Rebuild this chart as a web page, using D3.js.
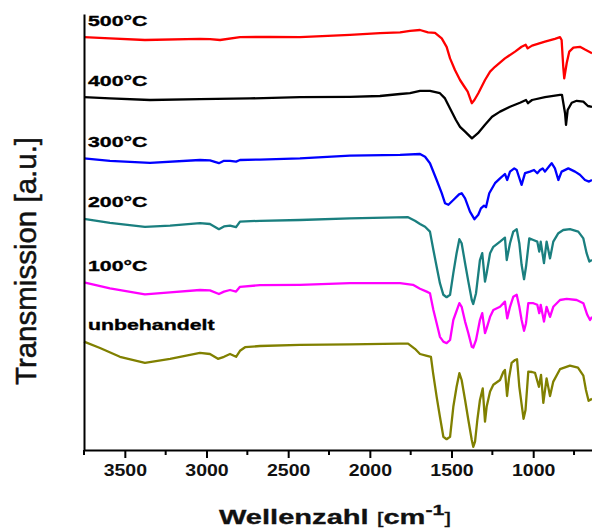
<!DOCTYPE html>
<html>
<head>
<meta charset="utf-8">
<script src="https://cdn.jsdelivr.net/npm/d3@7"></script>
<style>
  html, body { margin: 0; padding: 0; background: #fff; }
  svg { display: block; font-family: "Liberation Sans", Arial, sans-serif; }
</style>
</head>
<body>
<svg id="chart" width="592" height="529"></svg>
<script>
// FTIR spectra, stacked in arbitrary transmission units: [wavenumber cm^-1, transmission]
const t500 = [[3750,103.2],[3591,102.9],[3377,102.5],[3040,102.8],[2979,102.7],[2917,102.5],[2795,103.2],[2611,103.3],[2428,103.2],[2122,103.8],[1938,104.2],[1815,104.4],[1754,104.8],[1693,105.0],[1644,104.4],[1601,104.3],[1560,102.9],[1530,100.8],[1509,97.9],[1479,95.0],[1448,92.5],[1424,91.0],[1401,89.6],[1376,86.7],[1360,87.5],[1336,89.2],[1295,92.5],[1264,94.6],[1234,95.8],[1173,97.9],[1111,99.6],[1071,100.8],[1046,101.3],[1034,100.4],[1007,101.1],[928,102.1],[867,102.8],[836,103.2],[826,102.5],[816,95.8],[810,92.9],[795,96.7],[779,99.6],[754,100.6],[714,100.8],[683,100.1],[640,99.2]];

const t400 = [[3750,88.2],[3591,87.9],[3346,87.5],[3040,87.7],[2734,87.9],[2428,88.2],[2122,88.3],[1938,88.5],[1815,89.0],[1754,89.2],[1693,89.8],[1632,89.8],[1571,89.2],[1540,87.9],[1509,85.4],[1473,82.5],[1448,80.8],[1417,79.6],[1375,77.9],[1338,79.2],[1295,81.3],[1252,83.3],[1203,84.6],[1142,85.8],[1081,86.8],[1044,87.5],[1032,86.7],[1007,87.5],[928,88.2],[836,88.8],[824,88.8],[805,84.2],[799,81.3],[789,85.0],[764,86.8],[734,87.3],[693,87.1],[665,86.0],[640,85.8]];

const t300 = [[3750,72.9],[3591,72.3],[3346,71.8],[3040,72.5],[2979,72.4],[2924,71.7],[2893,72.3],[2856,72.3],[2819,72.1],[2795,72.5],[2673,72.6],[2428,72.9],[2122,73.6],[1815,73.8],[1693,74.0],[1662,73.3],[1632,71.7],[1591,67.5],[1560,64.2],[1540,61.7],[1519,61.3],[1489,62.5],[1454,63.9],[1438,64.2],[1417,62.9],[1387,59.6],[1360,57.7],[1336,58.8],[1320,60.4],[1301,61.1],[1289,60.7],[1269,64.2],[1234,66.7],[1203,67.9],[1173,69.0],[1159,67.5],[1142,69.6],[1116,70.4],[1101,70.0],[1071,66.3],[1050,69.2],[1020,69.6],[995,70.0],[975,69.2],[958,70.0],[942,70.4],[928,69.6],[901,71.0],[887,71.7],[867,70.4],[846,67.5],[826,69.6],[785,70.4],[744,69.6],[714,68.8],[683,67.5],[658,67.1],[640,67.5]];

const t200 = [[3750,57.8],[3591,56.8],[3377,55.8],[3223,56.1],[3040,56.7],[2979,56.5],[2924,55.2],[2893,55.9],[2856,56.1],[2819,55.7],[2795,57.1],[2673,57.3],[2428,57.5],[2122,57.9],[1766,58.2],[1724,57.3],[1693,56.5],[1662,55.8],[1632,54.6],[1611,50.0],[1591,45.8],[1571,41.7],[1550,38.8],[1530,38.2],[1509,38.8],[1489,44.2],[1469,49.2],[1452,52.7],[1438,51.7],[1417,46.7],[1397,42.1],[1376,37.5],[1367,36.5],[1350,39.2],[1326,47.5],[1312,49.2],[1295,42.1],[1285,44.2],[1264,49.2],[1244,50.8],[1203,52.1],[1173,53.1],[1162,47.5],[1142,51.7],[1122,54.6],[1101,55.2],[1085,51.7],[1071,46.3],[1056,42.7],[1044,45.8],[1024,52.9],[999,52.5],[975,52.1],[963,49.6],[954,52.1],[934,46.7],[918,52.1],[897,47.9],[877,52.1],[846,54.2],[816,55.0],[775,55.2],[724,54.6],[693,52.9],[673,49.2],[656,47.1],[640,47.5]];

const t100 = [[3750,41.9],[3591,40.4],[3377,38.9],[3223,39.4],[3040,40.0],[2979,39.9],[2924,39.0],[2893,39.6],[2856,40.0],[2819,39.6],[2795,40.8],[2673,41.2],[2428,41.3],[2122,41.7],[1815,41.7],[1736,41.3],[1693,40.3],[1652,39.6],[1632,39.2],[1611,35.0],[1591,31.7],[1571,28.3],[1550,27.1],[1530,26.7],[1509,27.5],[1489,32.5],[1452,36.7],[1438,35.8],[1417,32.1],[1397,29.2],[1376,25.8],[1367,25.6],[1350,27.5],[1326,32.5],[1312,34.2],[1295,29.2],[1285,30.4],[1264,33.3],[1244,35.0],[1203,35.8],[1173,37.1],[1159,32.9],[1142,35.8],[1122,38.3],[1101,38.8],[1085,35.8],[1071,32.5],[1056,29.8],[1044,31.7],[1030,36.7],[999,36.7],[975,36.3],[963,34.2],[954,36.3],[934,32.1],[918,35.8],[897,33.3],[877,35.8],[836,37.5],[795,37.8],[734,37.5],[693,36.7],[669,33.8],[652,32.5],[640,33.3]];

const tRaw = [[3750,27.1],[3652,25.5],[3530,23.3],[3377,21.8],[3223,22.8],[3040,24.3],[2979,24.0],[2930,22.8],[2893,23.3],[2856,24.0],[2819,23.3],[2795,24.8],[2764,25.7],[2673,26.0],[2428,26.3],[2122,26.4],[1815,26.6],[1766,26.6],[1724,25.3],[1693,24.0],[1656,23.6],[1626,23.3],[1613,19.3],[1591,13.3],[1571,8.3],[1550,3.3],[1530,2.7],[1509,3.3],[1489,10.8],[1469,15.8],[1452,19.2],[1438,17.5],[1417,12.5],[1397,7.5],[1376,2.5],[1367,0.8],[1356,2.1],[1342,7.5],[1326,12.5],[1309,15.4],[1295,7.1],[1285,10.8],[1264,14.6],[1244,16.3],[1203,17.5],[1183,19.5],[1173,20.0],[1160,13.5],[1148,18.0],[1132,21.8],[1111,22.5],[1099,22.7],[1085,15.8],[1059,7.8],[1047,10.0],[1030,19.6],[1007,19.5],[989,19.3],[965,15.8],[952,18.8],[938,11.8],[918,17.9],[897,13.5],[877,17.1],[836,20.2],[775,21.1],[726,20.6],[693,18.6],[677,15.0],[661,12.3],[640,12.8]];

const seriesLabels = ["500°C", "400°C", "300°C", "200°C", "100°C", "unbehandelt"];
const seriesColors = ["#ff0000", "#000000", "#0000ff", "#1a7f7f", "#ff00ff", "#808000"];
const seriesData = [t500, t400, t300, t200, t100, tRaw];

const majorTicks = [3500, 3000, 2500, 2000, 1500, 1000];
const minorTicks = [3750, 3250, 2750, 2250, 1750, 1250, 750];

const xTitle = "Wellenzahl";
const yTitle = "Transmission [a.u.]";

const svg = d3.select("#chart");
svg.append("rect").attr("width", 592).attr("height", 529).attr("fill", "#fff");

const x = d3.scaleLinear().domain([3750, 640]).range([84, 592]);
const y = d3.scaleLinear().domain([0, 109]).range([450, 14]);

// spectra
const line = d3.line().x(d => x(d[0])).y(d => y(d[1]));
svg.append("g").selectAll("path")
  .data(seriesData)
  .join("path")
  .attr("d", line)
  .attr("fill", "none")
  .attr("stroke", (d, i) => seriesColors[i])
  .attr("stroke-width", 2.3)
  .attr("stroke-linejoin", "round");

// series names, placed just above the start of each trace
svg.append("g").selectAll("text")
  .data(seriesData)
  .join("text")
  .attr("transform", d => `translate(88,${y(d[0][1]) - 11.5}) scale(1.42,1)`)
  .attr("font-size", 15)
  .attr("font-weight", "bold")
  .attr("fill", "#000")
  .attr("stroke", "#000")
  .attr("stroke-width", 0.35)
  .text((d, i) => seriesLabels[i]);

// x axis: labelled major ticks and unlabelled minor ticks
const xAxis = svg.append("g").attr("transform", "translate(0,450)");
xAxis.call(d3.axisBottom(x).tickValues(majorTicks).tickSize(8).tickPadding(7).tickSizeOuter(0).tickFormat(d3.format("d")));
xAxis.select(".domain").attr("stroke-width", 2);
xAxis.selectAll(".tick line").attr("stroke-width", 2);
xAxis.selectAll(".tick text")
  .attr("font-size", 16)
  .attr("font-weight", "bold")
  .attr("font-family", "Liberation Sans, Arial, sans-serif")
  .attr("fill", "#111")
  .attr("transform", "scale(1.22,1)");
xAxis.selectAll(".minor")
  .data(minorTicks)
  .join("line")
  .attr("class", "minor")
  .attr("x1", d => x(d)).attr("x2", d => x(d))
  .attr("y1", 0).attr("y2", 5)
  .attr("stroke", "#000").attr("stroke-width", 2);

// y axis: plain line, no ticks
const yAxis = svg.append("g").attr("transform", "translate(84,0)");
yAxis.call(d3.axisLeft(y).tickValues([]).tickSizeOuter(0));
yAxis.select(".domain").attr("stroke-width", 2);

// axis titles
const xt = svg.append("text")
  .attr("transform", "translate(335,524) scale(1.42,1)")
  .attr("text-anchor", "middle")
  .attr("font-size", 20.5)
  .attr("font-weight", "bold")
  .attr("fill", "#111")
  .attr("stroke", "#111")
  .attr("stroke-width", 0.3);
xt.append("tspan").text(xTitle + " ");
xt.append("tspan").attr("font-weight", "normal").attr("font-size", 17).text("[");
xt.append("tspan").text("cm");
xt.append("tspan").attr("font-size", 15).attr("dy", -9).text("-1");
xt.append("tspan").attr("font-weight", "normal").attr("font-size", 17).attr("dy", 9).text("]");

svg.append("text")
  .attr("transform", "translate(36,261) rotate(-90)")
  .attr("text-anchor", "middle")
  .attr("font-size", 29.5)
  .attr("fill", "#111")
  .attr("stroke", "#111")
  .attr("stroke-width", 0.5)
  .text(yTitle);
</script>
</body>
</html>
